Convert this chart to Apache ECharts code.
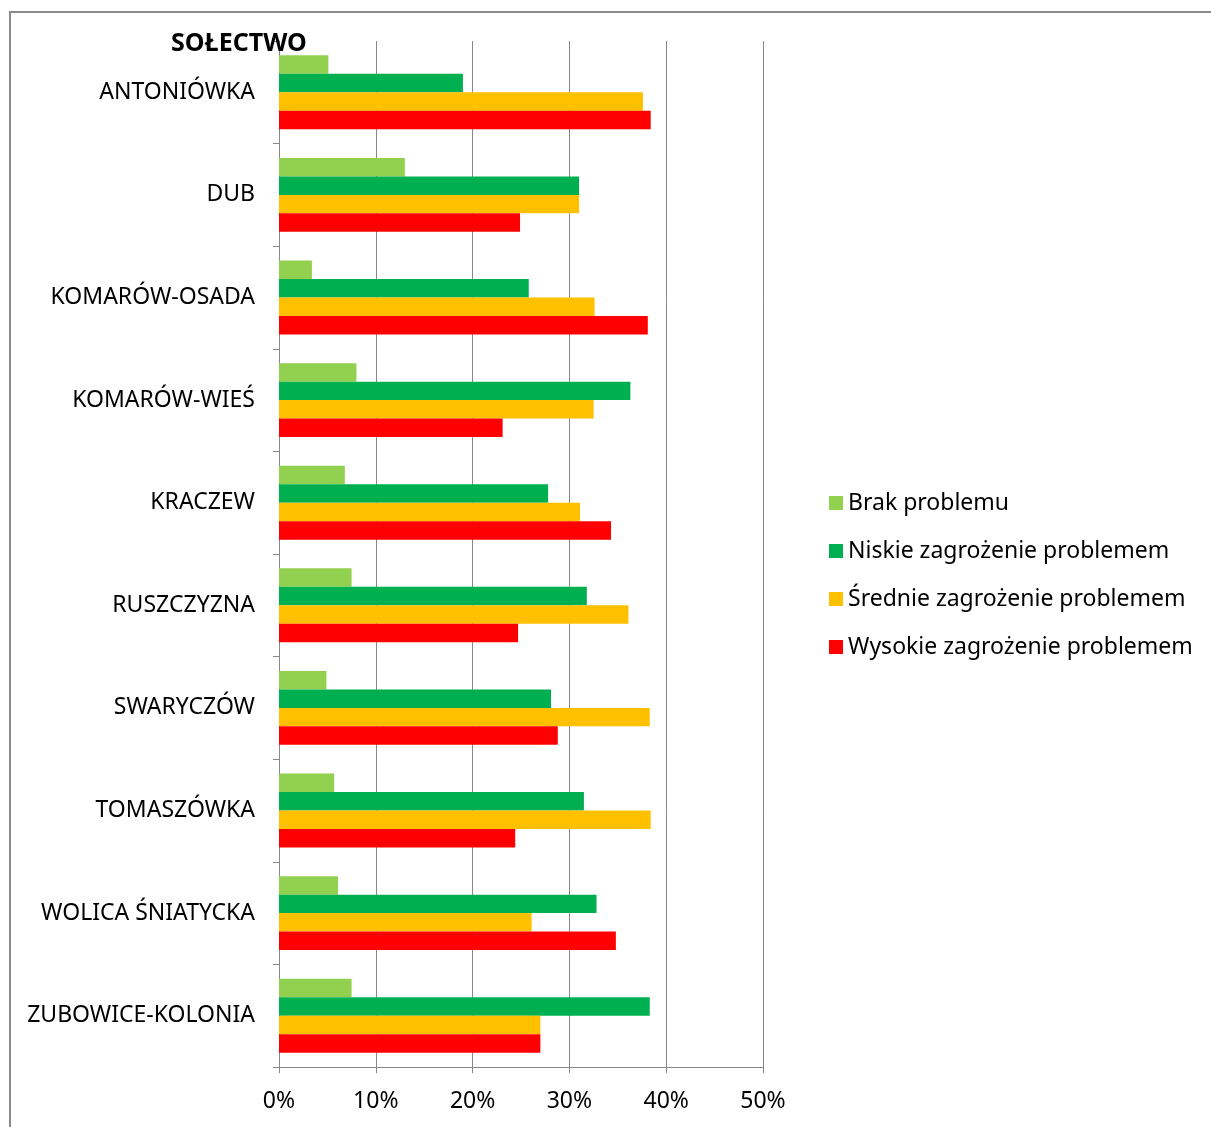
<!DOCTYPE html>
<html>
<head>
<meta charset="utf-8">
<script src="https://cdn.jsdelivr.net/npm/echarts@6/dist/echarts.min.js"></script>
<style>
  html, body { margin: 0; padding: 0; background: #fff; }
  #chart { width: 1211px; height: 1127px; }
</style>
</head>
<body>
<div id="chart"></div>
<script>
// sołectwa (kategorie)
var villages = ['ANTONIÓWKA', 'DUB', 'KOMARÓW-OSADA', 'KOMARÓW-WIEŚ', 'KRACZEW',
    'RUSZCZYZNA', 'SWARYCZÓW', 'TOMASZÓWKA', 'WOLICA ŚNIATYCKA', 'ZUBOWICE-KOLONIA'];
var seriesNames = ['Brak problemu', 'Niskie zagrożenie problemem',
    'Średnie zagrożenie problemem', 'Wysokie zagrożenie problemem'];
var colors = ['#92D050', '#00B050', '#FFC000', '#FF0000'];

// wartości w %
var brak     = [5.1, 13.0, 3.4, 8.0, 6.8, 7.5, 4.9, 5.7, 6.1, 7.5];
var niskie   = [19.0, 31.0, 25.8, 36.3, 27.8, 31.8, 28.1, 31.5, 32.8, 38.3];
var srednie  = [37.6, 31.0, 32.6, 32.5, 31.1, 36.1, 38.3, 38.4, 26.1, 27.0];
var wysokie  = [38.4, 24.9, 38.1, 23.1, 34.3, 24.7, 28.8, 24.4, 34.8, 27.0];

var xTicks = [0, 10, 20, 30, 40, 50];

var chart = echarts.init(document.getElementById('chart'));
var font = 'Noto Sans';
var gridColor = '#888888';

var allData = [brak, niskie, srednie, wysokie];
var series = [];
for (let i of [0, 1, 2, 3]) {
    series.push({
        name: seriesNames[i],
        type: 'bar',
        data: allData[i],
        barGap: '0%',
        barCategoryGap: '28%',
        itemStyle: { color: colors[i] },
        silent: true
    });
}

chart.setOption({
    animation: false,
    textStyle: { fontFamily: font },
    title: {
        text: 'SOŁECTWO',
        left: 166,
        top: 26,
        textStyle: { fontFamily: font, fontSize: 25, fontWeight: 'bold', color: '#000' }
    },
    legend: {
        orient: 'vertical',
        left: 824,
        top: 486,
        icon: 'rect',
        itemWidth: 14,
        itemHeight: 14,
        itemGap: 24,
        data: seriesNames,
        selectedMode: false,
        textStyle: { fontFamily: font, fontSize: 23, color: '#000', lineHeight: 24 }
    },
    grid: { left: 279, right: 448, top: 41, bottom: 60, containLabel: false },
    xAxis: {
        type: 'value',
        min: xTicks[0],
        max: xTicks[xTicks.length - 1],
        interval: 10,
        axisLine: { show: true, lineStyle: { color: gridColor, width: 1 } },
        axisTick: { show: true, length: 6, lineStyle: { color: gridColor } },
        splitLine: { show: true, lineStyle: { color: gridColor, width: 1 } },
        axisLabel: {
            formatter: '{value}%',
            fontFamily: font,
            fontSize: 23,
            color: '#000',
            margin: 23
        }
    },
    yAxis: {
        type: 'category',
        data: villages,
        inverse: true,
        axisLine: { show: true, lineStyle: { color: gridColor, width: 1 } },
        axisTick: { show: true, length: 6, lineStyle: { color: gridColor } },
        axisLabel: { fontFamily: font, fontSize: 23, color: '#000', margin: 24 }
    },
    graphic: [{
        type: 'rect',
        silent: true,
        shape: { x: 10, y: 12, width: 1400, height: 1300 },
        style: { fill: 'none', stroke: '#8c8c8c', lineWidth: 2 }
    }],
    series: series
});
</script>
</body>
</html>
